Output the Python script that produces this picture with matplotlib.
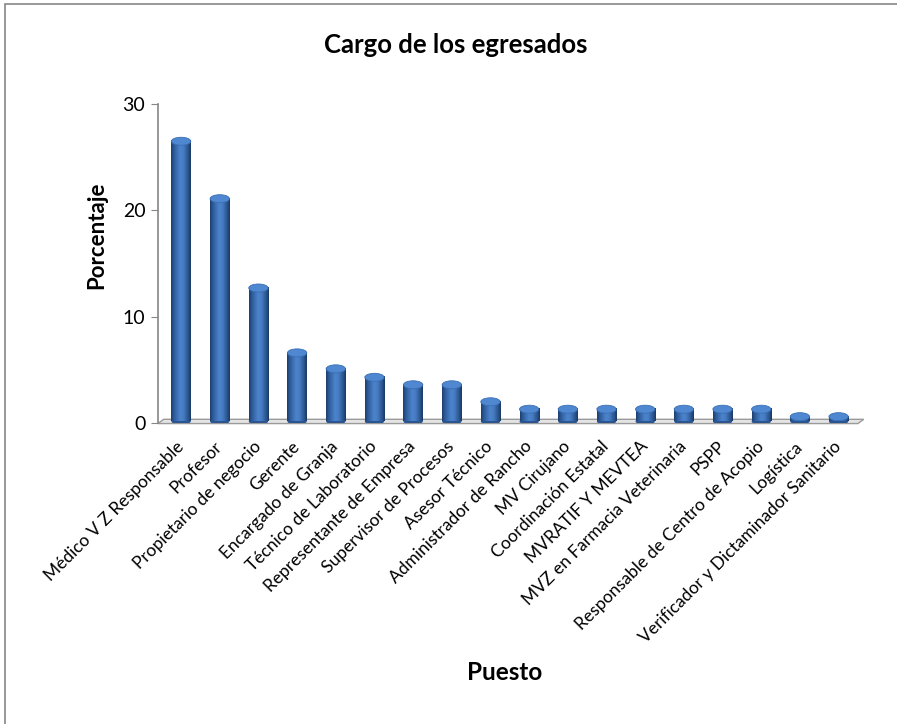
import numpy as np
import matplotlib
matplotlib.use('Agg')
import matplotlib.pyplot as plt
from matplotlib.colors import LinearSegmentedColormap
from matplotlib.patches import Ellipse, Polygon, Rectangle

plt.rcParams['font.family'] = ['Lato', 'DejaVu Sans']

# data
puestos = ['Médico V Z Responsable', 'Profesor', 'Propietario de negocio',
           'Gerente', 'Encargado de Granja', 'Técnico de Laboratorio',
           'Representante de Empresa', 'Supervisor de Procesos',
           'Asesor Técnico', 'Administrador de Rancho', 'MV Cirujano',
           'Coordinación Estatal', 'MVRATIF Y MEVTEA',
           'MVZ en Farmacia Veterinaria', 'PSPP',
           'Responsable de Centro de Acopio', 'Logística',
           'Verificador y Dictaminador Sanitario']
porcentaje = [26.5, 21.1, 12.7, 6.6, 5.1, 4.3, 3.6, 3.6, 2.0,
              1.3, 1.3, 1.3, 1.3, 1.3, 1.3, 1.3, 0.6, 0.6]
yticks = [0, 10, 20, 30]

fig = plt.figure(figsize=(8.97, 7.24), dpi=100)
ax = fig.add_axes([0.176, 0.4157, 0.7826, 0.4406])

# chart border (only left and top edges show)
fig.patches.append(Rectangle((5 / 897, -0.05), 1.2, 1.05 - 4 / 724,
                             transform=fig.transFigure, fill=False,
                             edgecolor='#868686', lw=1.2))

cyl = LinearSegmentedColormap.from_list('cyl', [
    (0.0, '#1d3f6e'), (0.15, '#2e5c9b'), (0.45, '#4b83cb'),
    (0.62, '#477dc3'), (0.85, '#2c5893'), (1.0, '#1a3961')])
grad = np.linspace(0, 1, 64).reshape(1, -1)

x = np.arange(len(puestos))
w = 0.5
cap_h = 0.75

# floor
x0, x1 = -0.6, len(puestos) - 0.5
floor = Polygon([(x0, -0.05), (x1, -0.05), (x1 + 0.15, 0.35), (x0 + 0.15, 0.35)],
                closed=True, facecolor='#e4e4e4', edgecolor='#9a9a9a', lw=1.0,
                clip_on=False, zorder=1)
ax.add_patch(floor)

for xi, v in zip(x, porcentaje):
    ax.imshow(grad, cmap=cyl, aspect='auto', interpolation='bilinear',
              extent=(xi - w / 2, xi + w / 2, 0.15, v), zorder=2)
    ax.add_patch(Ellipse((xi, 0.15), w, cap_h * 0.8, facecolor='#2a5590',
                         edgecolor='none', zorder=1.9))
    ax.add_patch(Ellipse((xi, v), w, cap_h, facecolor='#4f87d1',
                         edgecolor='#3a6fb5', lw=0.6, zorder=3, clip_on=False))

ax.set_xlim(-0.6, 17.55)
ax.set_ylim(0, 30)
ax.set_yticks(yticks)
ax.set_xticks(x)
ax.set_xticklabels(puestos, rotation=45, ha='right', va='center',
                   rotation_mode='anchor', fontsize=12.5)
ax.tick_params(axis='x', length=0, pad=15)
ax.tick_params(axis='y', length=5, color='#868686', labelsize=14, pad=4)
for s in ['top', 'right', 'bottom']:
    ax.spines[s].set_visible(False)
ax.spines['left'].set_color('#868686')
ax.spines['left'].set_linewidth(1.2)

fig.text(456 / 897, 1 - 45 / 724, 'Cargo de los egresados', ha='center',
         va='center', fontsize=18.5, fontweight='bold')
fig.text(505 / 897, 1 - 672 / 724, 'Puesto', ha='center', va='center',
         fontsize=17.5, fontweight='bold')
fig.text(97 / 897, 1 - 235 / 724, 'Porcentaje', ha='center', va='center',
         rotation=90, fontsize=16, fontweight='bold')

fig.savefig('out.png', dpi=100)
